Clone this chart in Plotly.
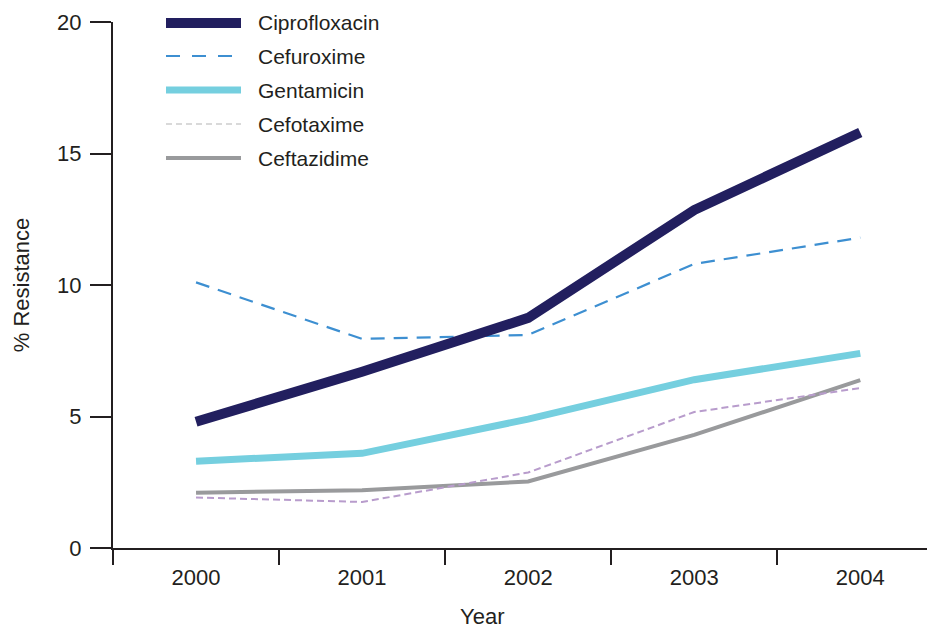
import plotly.graph_objects as go

years = ["2000", "2001", "2002", "2003", "2004"]
series_names = ["Ciprofloxacin", "Cefuroxime", "Gentamicin", "Cefotaxime", "Ceftazidime"]
ciprofloxacin = [4.8, 6.7, 8.75, 12.85, 15.8]
cefuroxime = [10.1, 7.95, 8.1, 10.8, 11.8]
gentamicin = [3.3, 3.6, 4.9, 6.4, 7.4]
cefotaxime = [1.92, 1.75, 2.87, 5.17, 6.08]
ceftazidime = [2.1, 2.2, 2.53, 4.3, 6.38]
y_ticks = [0, 5, 10, 15, 20]

values = [ciprofloxacin, cefuroxime, gentamicin, cefotaxime, ceftazidime]
line_styles = [
    dict(color="#221f5f", width=10),
    dict(color="#3d8fd1", width=2.2, dash="14px,9px"),
    dict(color="#75cfdf", width=7),
    dict(color="#b89ccc", width=2, dash="7px,4px"),
    dict(color="#999a9c", width=4),
]
legend_styles = [
    dict(color="#221f5f", width=10),
    dict(color="#3d8fd1", width=2.2, dash="14px,12px"),
    dict(color="#75cfdf", width=7),
    dict(color="#d9d9d9", width=2, dash="6px,4px"),
    dict(color="#999a9c", width=4),
]

FONT = "Liberation Sans, Arial, sans-serif"
TXT = "#231f20"

# page body has an 8px margin: size the figure so the plot lands where the reference has it
OFF = 8
TOP = 22          # page y of the plot top (value 20)
BOT = 548         # page y of the x axis (value 0)
LEFT = 113
W, H = 935 - OFF, 632 - OFF
ml, mr, mt, mb = LEFT - OFF, 0, TOP - OFF, 632 - BOT
# reference-pixel -> paper coordinates
def px(x):
    return (x - LEFT) / (935 - LEFT)
def py(y):
    return (BOT - y) / (BOT - TOP)

fig = go.Figure()
order = [4, 3, 2, 1, 0]
for i in order:
    fig.add_trace(go.Scatter(
        x=years, y=values[i], mode="lines", name=series_names[i],
        line=line_styles[i], showlegend=False,
    ))

# custom legend with long swatches as in the reference
row_y = [23, 56, 90, 124, 158]
for name, st, ry in zip(series_names, legend_styles, row_y):
    fig.add_shape(type="line", xref="paper", yref="paper",
                  x0=px(166), x1=px(241), y0=py(ry), y1=py(ry),
                  line=st)
    fig.add_annotation(xref="paper", yref="paper", x=px(256), y=py(ry),
                       text=name, showarrow=False, xanchor="left", yanchor="middle",
                       font=dict(family=FONT, size=21, color=TXT))

# x-axis title (placed left of plot centre, as in the reference)
fig.add_annotation(xref="paper", yref="paper", x=px(481.5), y=py(616),
                   text="Year", showarrow=False, xanchor="center", yanchor="middle",
                   font=dict(family=FONT, size=22, color=TXT))

fig.update_layout(
    width=W, height=H,
    margin=dict(l=ml, r=mr, t=mt, b=mb, autoexpand=False),
    plot_bgcolor="white", paper_bgcolor="white",
    font=dict(family=FONT, size=22, color=TXT),
    showlegend=False,
    xaxis=dict(
        type="category", range=[-0.5, 4.45], automargin=False,
        showgrid=False, zeroline=False,
        showline=True, linecolor=TXT, linewidth=2,
        ticks="outside", tickson="boundaries", ticklen=15, tickwidth=2, tickcolor=TXT,
        tickfont=dict(size=22), ticklabelstandoff=9, ticklabeloverflow="allow",
    ),
    yaxis=dict(
        range=[0, 20], tickvals=y_ticks, automargin=False,
        showgrid=False, zeroline=False,
        showline=True, linecolor=TXT, linewidth=2,
        ticks="outside", ticklen=21, tickwidth=2, tickcolor=TXT,
        tickfont=dict(size=22), ticklabelstandoff=4, ticklabeloverflow="allow",
        title=dict(text="% Resistance", font=dict(size=22), standoff=21),
    ),
)

fig.write_html("out.html")
